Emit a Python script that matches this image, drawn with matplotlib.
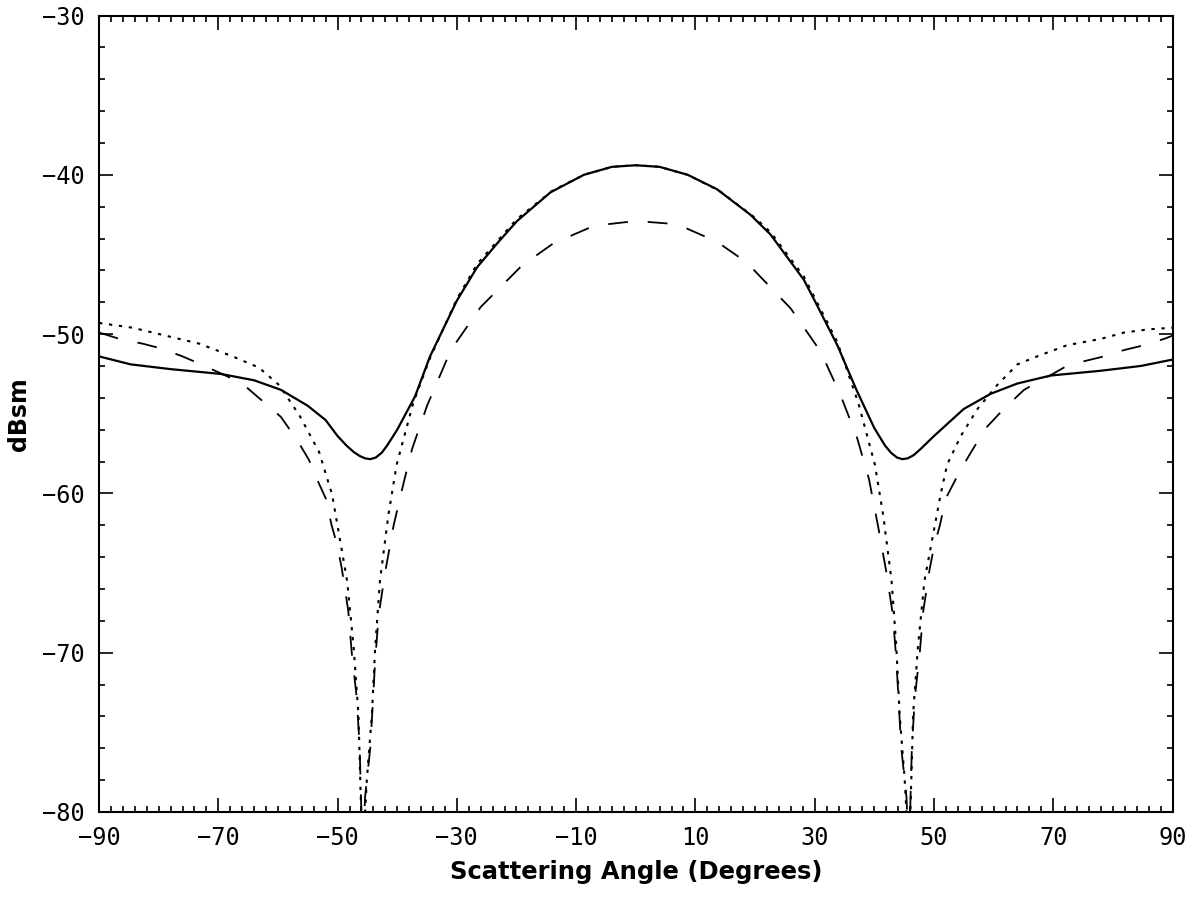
import matplotlib
matplotlib.use("Agg")
import matplotlib.pyplot as plt
from matplotlib.ticker import MultipleLocator

# ── data (x: scattering angle in degrees, y: dBsm) ──
solid_x = [-90, -84.7, -78, -69.6, -64, -59.5, -55, -52, -50, -48.5, -47.3, -46.3, -45.4,
           -44.5, -43.6, -42.6, -41.7, -40, -37, -34.5, -30, -26.6, -23, -19.9, -14.3,
           -8.7, -4, 0, 4, 8.7, 13.6, 19.2, 22.6, 28.2, 30, 33.8, 37, 40, 41.8, 42.8,
           43.8, 44.7, 45.6, 46.6, 47.8, 50, 55, 59.5, 64, 69.6, 78, 84.7, 90]
solid_y = [-51.4, -51.9, -52.2, -52.5, -52.9, -53.5, -54.5, -55.4, -56.4, -57.0, -57.4, -57.65, -57.8,
           -57.85, -57.75, -57.45, -57.0, -56.0, -53.9, -51.4, -47.9, -45.8, -44.2, -42.9, -41.1,
           -40.0, -39.5, -39.4, -39.5, -40.0, -40.9, -42.5, -43.75, -46.6, -47.9, -50.7, -53.5, -55.9, -57.0, -57.45,
           -57.75, -57.85, -57.8, -57.6, -57.2, -56.4, -54.7, -53.75, -53.1, -52.6, -52.3, -52.0, -51.6]

dot_x = [-90, -84.4, -78.8, -73.2, -67.6, -63.2, -59.8, -56.4, -53.1, -50.9, -48.4,
         -47.3, -46.5, -46.2, -45.8, -45.1, -44.25, -43.7, -42.9, -41.5, -40.1, -37.3,
         -34.5, -30, -26.6, -20, -14, -8.7, -4, 0, 4, 8.7, 14, 20, 22.6, 28.2, 33.8,
         37.3, 40.1, 41.5, 42.9, 43.7, 44.25, 45.1, 45.8, 46.2, 46.5, 47.3, 48.4,
         51.1, 52.2, 54.5, 57.3, 60.6, 64, 67.3, 72.3, 78, 81.9, 86, 90]
dot_y = [-49.3, -49.6, -50.1, -50.6, -51.4, -52.1, -53.2, -55.1, -57.4, -60.1, -65.5,
         -69.7, -73.9, -78.0, -83.0, -78.0, -73.9, -69.7, -65.5, -61.4, -58.2, -54.3,
         -51.5, -47.8, -45.6, -42.8, -41.0, -40.0, -39.5, -39.4, -39.5, -40.0, -41.0, -42.7, -43.6, -46.4, -50.5,
         -54.3, -58.2, -61.4, -65.5, -69.7, -73.9, -78.0, -83.0, -78.0, -73.9, -69.7, -65.5,
         -60.1, -58.2, -56.4, -54.7, -53.2, -51.9, -51.4, -50.7, -50.3, -49.9, -49.7, -49.6]

dash_x = [-90, -86.6, -82.7, -79.6, -76, -72.9, -68.8, -66, -62.6, -59.5, -56.7, -54.8,
          -53.1, -52, -51, -50.1, -49.3, -48.2, -47.6, -46.8, -46.3, -45.8, -45.4, -44.5,
          -43.7, -43.1, -42, -40.6, -38.9, -37.5, -35, -31, -26, -19.1, -13.8, -7, 0,
          6.9, 13.6, 18.6, 26, 31, 34.3, 37.1, 39.1, 40.6, 42, 43.1, 43.7, 44.5, 45.4,
          45.8, 46.3, 46.8, 47.6, 48.2, 49.3, 50.1, 51, 52, 54.5, 56.4, 58.7, 61.7,
          65.1, 68.5, 71.8, 75.2, 78.5, 81.9, 85.2, 88.6, 90]
dash_y = [-49.9, -50.3, -50.6, -50.9, -51.4, -51.9, -52.6, -53.1, -54.2, -55.2, -56.7, -57.9,
          -59.4, -60.3, -62.0, -63.2, -64.7, -67.4, -70.1, -72.8, -75.9, -83.0, -79.1, -75.9,
          -70.5, -67.6, -64.9, -62.0, -59.3, -57.2, -54.5, -51.0, -48.3, -45.7, -44.3, -43.2, -42.9,
          -43.1, -44.2, -45.5, -48.4, -51.1, -53.8, -56.5, -59.1, -62.0, -64.9, -67.6, -70.5, -75.9, -79.1,
          -83.0, -75.9, -72.8, -70.1, -67.4, -64.7, -63.2, -62.0, -60.3, -58.5, -57.3, -55.9, -54.7,
          -53.5, -52.8, -52.1, -51.7, -51.4, -51.0, -50.7, -50.3, -50.1]

x_major = [-90, -70, -50, -30, -10, 10, 30, 50, 70, 90]
y_major = [-80, -70, -60, -50, -40, -30]


def main():
    fig = plt.figure(figsize=(11.99, 8.97), dpi=100)
    ax = fig.add_axes([0.0826, 0.0948, 0.8953, 0.8879])

    ax.plot(solid_x, solid_y, color='black', lw=1.6, solid_joinstyle='round')
    ax.plot(dot_x, dot_y, color='black', lw=1.5, linestyle=(0, (1.6, 3.2)))
    ax.plot(dash_x, dash_y, color='black', lw=1.3, linestyle=(0, (11, 11)))

    ax.set_xlim(-90, 90)
    ax.set_ylim(-80, -30)
    ax.set_xticks(x_major)
    ax.set_yticks(y_major)
    ax.xaxis.set_minor_locator(MultipleLocator(2))
    ax.yaxis.set_minor_locator(MultipleLocator(2))

    ax.tick_params(which='both', direction='in', top=True, right=True, width=1.2,
                   colors='black')
    ax.tick_params(which='major', length=10, pad=10)
    ax.tick_params(which='minor', length=4.5)
    for lab in ax.get_xticklabels() + ax.get_yticklabels():
        lab.set_family('DejaVu Sans Mono')
        lab.set_fontsize(17)
    for sp in ax.spines.values():
        sp.set_linewidth(1.5)

    ax.set_xlabel("Scattering Angle (Degrees)", fontsize=17.5, fontweight='bold',
                  labelpad=7)
    ax.set_ylabel("dBsm", fontsize=17, fontweight='bold', labelpad=8)

    fig.savefig("out.png", dpi=100)


if __name__ == '__main__':
    main()
